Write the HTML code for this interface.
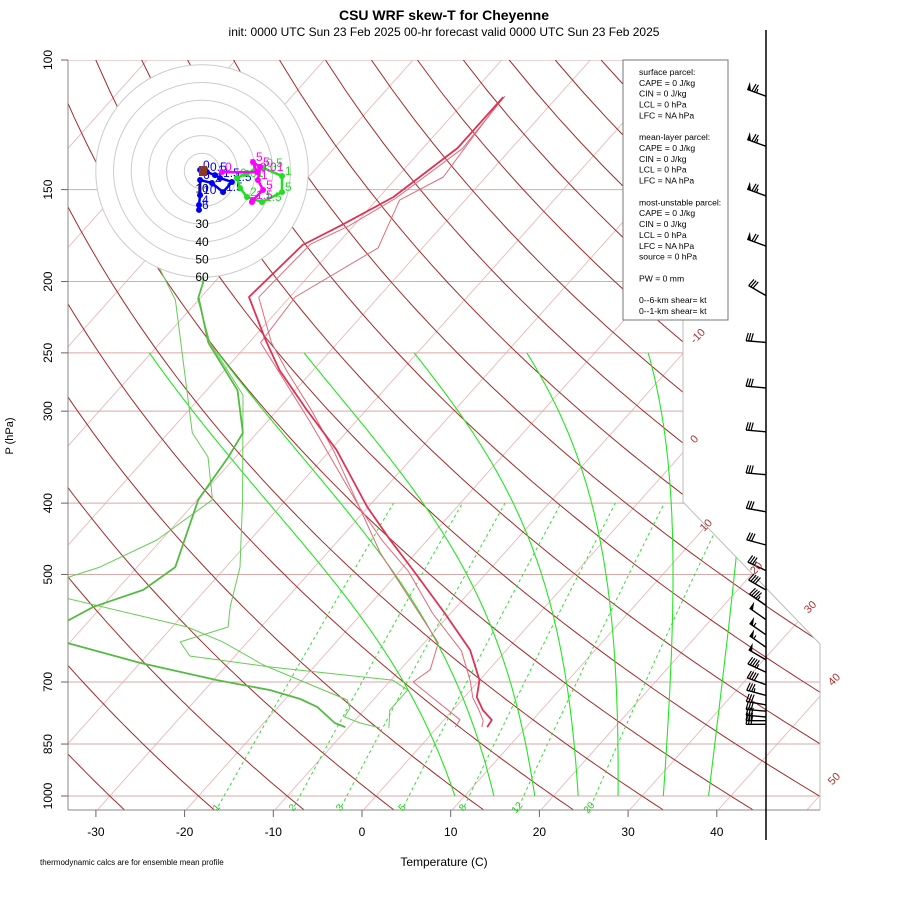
<!DOCTYPE html>
<html><head><meta charset="utf-8">
<style>
html,body{margin:0;padding:0;background:#fff;}
svg{display:block;font-family:"Liberation Sans",sans-serif;}
</style></head>
<body>
<svg id="chart" width="900" height="900" viewBox="0 0 900 900" xmlns="http://www.w3.org/2000/svg">
<defs><clipPath id="diag"><polygon points="68,60 683,60 683,502 820,644 820,810 68,810"/></clipPath></defs>
<text x="444" y="20" text-anchor="middle" font-size="14" font-weight="bold">CSU WRF skew-T for Cheyenne</text>
<text x="444" y="36" text-anchor="middle" font-size="12">init: 0000 UTC Sun 23 Feb 2025    00-hr forecast valid 0000 UTC Sun 23 Feb 2025</text>
<g id="bg" clip-path="url(#diag)"></g>
<g id="frame"></g>
<g id="prof" clip-path="url(#diag)"></g>
<g id="hodo"></g>
<g id="winds"></g>
<g id="axes"></g>
<g id="info"></g>
<text x="444" y="866" text-anchor="middle" font-size="12">Temperature (C)</text>
<text transform="translate(13,436) rotate(-90)" text-anchor="middle" font-size="11">P (hPa)</text>
<text x="40" y="865" font-size="8">thermodynamic calcs are for ensemble mean profile</text>
</svg>
<script>
// ---- data ----
const isobars = [100,150,200,250,300,400,500,700,850,1000];
const tempTicks = [-30,-20,-10,0,10,20,30,40];
const isothermLabels = [-10,0,10,20,30,40,50];
const isothermLabelP = [239,330,432,494,558,700,955];
const dryThetas = [-40,-30,-20,-10,0,10,20,30,40,50,60,70,80,90,100,110,120,130,140,150,160,170,180,190,200];
const moistStarts = [8.9,13.3,17.9,22.8,27.3,32.4,37.5];
const mixRatios = [1,2,3,5,8,12,20];

const tP = [112.3,131.7,153.5,167.6,178.4,209.9,240.1,263.8,298.9,338.8,404.9,448.9,493.1,564.1,633.4,695.9,733.9,764.3,788.4,806.0];
const tT = [-56.1,-56.1,-58.4,-61.4,-63.8,-64.6,-58.4,-53.8,-46.7,-39.3,-30.1,-24.2,-18.6,-10.7,-4.1,0.0,1.4,3.4,5.4,5.6];
const tAP = [112.3,127.2,144.2,155,180,209.9,242.1,311,404.9,467.6,619.5,673.9,700,788,806];
const tAT = [-56.1,-55.5,-54.8,-57.4,-55.0,-59.4,-58.7,-45.0,-31.0,-24.0,-8.4,-6.6,-7.3,1.8,2.0];
const tBP = [112,132,154,168,178,210,242,264,300,340,405,450,495,565,635,697,735,765,790,806];
const tBT = [-56,-55.5,-58,-60.5,-63,-63.5,-57.5,-53,-46,-39.5,-31,-25,-19,-12,-5,-1,1,3,4.5,5];

const dP = [113.7,160,200.9,209.9,242.1,281,321.1,346.3,395.7,488.6,524.8,553.3,587.3,617.4,659.5,695.9,718,738.3,756.8,795.7,806];
const dT = [-80.8,-78,-71.2,-70.3,-64.6,-56.5,-51.6,-50.8,-49.9,-45.7,-47.0,-50.9,-53.0,-50.8,-40.0,-29.6,-22.6,-18.3,-15.6,-12.0,-10.4];
const dAP = [191.8,211.9,321.1,346.3,395.7,448.9,488.6,520,528.2,589.3,617.4,663.7,740.6,759.4,780.8,795.6,808.2];
const dAT = [-77.6,-72.6,-57.3,-53.1,-48.3,-50.5,-54.2,-59.2,-58.4,-38.3,-32.8,-25.9,-12.9,-11.8,-11.5,-9.2,-6.4];
const dBP = [210.6,242.1,285.3,395.7,488.6,553.3,589.3,617.4,645.3,667.9,695.9,718,764.3,808.2];
const dBT = [-70.3,-64.4,-55.4,-44.9,-38.4,-35.5,-33.7,-37.6,-35.1,-24.9,-9.8,-7.1,-7.1,-5.4];

const windP = [112,131,153,179,209,242,279,320,366,411,456,494,525,551,576,604,628,653,679,706,730,752,767,781,790,799];
const windDir = [290,290,290,290,300,275,275,275,275,280,285,295,300,305,305,305,305,300,295,290,285,280,275,275,270,270];
const windSpd = [75,75,75,70,30,30,30,30,30,30,30,35,40,45,50,55,55,50,45,40,35,30,30,30,30,30];

const hodoRings = [10,20,30,40,50,60];
const hodoBlueU = [-1.1,2.8,7.3,10.2,16.9,11.9,5.6,-1.1,-1.1,-1.7,-1.7];
const hodoBlueV = [0.6,-0.6,-2.3,-4.0,-6.2,-11.9,-6.8,-5.1,-13.6,-19.2,-22.0];
const hodoBlueLab = ["0","0.5","1","1.5","1.5","1.5","2","6","10","4","6"];
const hodoGreenU = [19.8,25.4,34.5,45.2,45.2,33.9,25.4,21.5,19.8];
const hodoGreenV = [-4.0,-1.1,1.7,-2.8,-11.9,-17.5,-14.7,-9.6,-4.0];
const hodoGreenLab = ["0.01","1","0.5","1","5","1.5","2","",""];
const hodoMagU = [11.3,31.1,28.8,32.8,31.6,34.5,28.8,28.2];
const hodoMagV = [-0.6,-0.6,5.1,2.3,-5.1,-10.7,-16.4,-17.5];
const hodoMagLab = ["0","0.01","5","5","1","5","1.5",""];

const infoLines = ["surface parcel:","CAPE = 0 J/kg","CIN = 0 J/kg","LCL = 0 hPa","LFC = NA hPa","","mean-layer parcel:","CAPE = 0 J/kg","CIN = 0 J/kg","LCL = 0 hPa","LFC = NA hPa","","most-unstable parcel:","CAPE = 0 J/kg","CIN = 0 J/kg","LCL = 0 hPa","LFC = NA hPa","source = 0 hPa","","PW =  0 mm","","0--6-km shear=  kt","0--1-km shear=  kt"];

// ---- scales ----
const NS = "http://www.w3.org/2000/svg";
function Y(p){ return 60 + 736*Math.log10(p/100); }
function X(t,p){ return 362 + 8.87*t + 0.894*(811.6 - Y(p)); }
function mk(parent, tag, attrs){ const e=document.createElementNS(NS,tag); for(const k in attrs) e.setAttribute(k,attrs[k]); parent.appendChild(e); return e; }
function polyPts(ps, ts){ return ps.map((p,i)=>X(ts[i],p).toFixed(1)+","+Y(p).toFixed(1)).join(" "); }

const bg = document.getElementById('bg');
// isotherms
for(let t=-120;t<=50;t+=10){
  const l = mk(bg,'line',{x1:X(t,1050),y1:Y(1050),x2:X(t,100),y2:Y(100),stroke:'#ebb8b8','stroke-width':0.9});
  
  
}
// isobars
isobars.forEach(p=>{
  const l = mk(bg,'line',{x1:68,y1:Y(p),x2:820,y2:Y(p),stroke:'#d9a9a9','stroke-width':1});
  
  
});
// dry adiabats
dryThetas.forEach(th=>{
  const pts=[];
  for(let p=1050;p>=100;p-=10){ const T=(th+273.15)*Math.pow(p/1000,0.2857)-273.15; pts.push(X(T,p).toFixed(1)+","+Y(p).toFixed(1)); }
  const e = mk(bg,'polyline',{points:pts.join(" "),fill:'none',stroke:'#a52a2a','stroke-width':1});
  
  
});
// moist adiabats
function esat(T){ return 6.112*Math.exp(17.67*T/(T+243.5)); }
moistStarts.forEach(t0=>{
  let T=t0+273.15, lp=Math.log(1000); const pend=Math.log(250); const pts=[];
  const n=200, dl=(pend-lp)/n;
  for(let i=0;i<=n;i++){
    const p=Math.exp(lp);
    pts.push(X(T-273.15,p).toFixed(1)+","+Y(p).toFixed(1));
    const es=esat(T-273.15), r=0.622*es/(p-es);
    const g=(287*T+2.5e6*r)/(1005+2.5e6*2.5e6*r*0.622/(287*T*T));
    T+=g*dl; lp+=dl;
  }
  const e = mk(bg,'polyline',{points:pts.join(" "),fill:'none',stroke:'#22e622','stroke-width':1.1});
  
  
});
// mixing ratio lines
mixRatios.forEach(w=>{
  const pts=[];
  for(let p=1050;p>=400;p-=25){ const e=w*p/(622+w); const L=Math.log(e/6.112); const T=243.5*L/(17.67-L); pts.push(X(T,p).toFixed(1)+","+Y(p).toFixed(1)); }
  const e = mk(bg,'polyline',{points:pts.join(" "),fill:'none',stroke:'#33dd33','stroke-width':1,'stroke-dasharray':'3,3'});
  
  
  const e2=w*1035/(622+w), L=Math.log(e2/6.112), T=243.5*L/(17.67-L);
  const tx = mk(document.getElementById('axes'),'text',{x:X(T,1035)-2,y:Y(1035)+4,'font-size':10,fill:'#22cc22','text-anchor':'middle',transform:`rotate(-50 ${X(T,1035)-2} ${Y(1035)})`});
  tx.textContent=w;
  
  
});

// frame
const fr=document.getElementById('frame');
mk(fr,'polyline',{points:'683,60 683,502 820,644 820,810',fill:'none',stroke:'#bbb','stroke-width':1});
mk(fr,'line',{x1:68,y1:60,x2:68,y2:810,stroke:'#888','stroke-width':1});
mk(fr,'line',{x1:68,y1:810,x2:820,y2:810,stroke:'#888','stroke-width':1});

// isotherm labels
const ax=document.getElementById('axes');
isothermLabels.forEach((t,i)=>{
  const p=isothermLabelP[i]; const x=X(t,p)+4, y=Y(p);
  const e=mk(ax,'text',{x:x,y:y,'font-size':11,fill:'#b03030','text-anchor':'middle',transform:`rotate(-45 ${x} ${y})`});
  e.textContent=t;
  
  
});
// x ticks
tempTicks.forEach(t=>{
  const x=X(t,1050);
  mk(ax,'line',{x1:x,y1:810,x2:x,y2:817,stroke:'#666'});
  const e=mk(ax,'text',{x:x,y:836,'font-size':12,'text-anchor':'middle'});
  e.textContent=t;
  
  
});
// y ticks
isobars.forEach(p=>{
  const y=Y(p);
  mk(ax,'line',{x1:61,y1:y,x2:68,y2:y,stroke:'#666'});
  const e=mk(ax,'text',{x:0,y:0,'font-size':12,'text-anchor':'middle',transform:`translate(52,${y}) rotate(-90)`});
  e.textContent=p;
  
  
});

// profiles
const pr=document.getElementById('prof');
function line(ps,ts,color,w,name){ const e=mk(pr,'polyline',{points:polyPts(ps,ts),fill:'none',stroke:color,'stroke-width':w,'stroke-linejoin':'round'});   }
line(dAP,dAT,'#66cc55',1,'dewpoint-member-a');
line(dBP,dBT,'#66cc55',1,'dewpoint-member-b');
line(dP,dT,'#55bb44',1.8,'dewpoint-mean');
line(tAP,tAT,'#e06a7a',1,'temperature-member-a');
line(tBP,tBT,'#e06a7a',1,'temperature-member-b');
line(tP,tT,'#dd3355',1.8,'temperature-mean');

// hodograph
const hg=document.getElementById('hodo');
const hx=202, hy=171, hs=1.77;
mk(hg,'circle',{cx:hx,cy:hy,r:60*hs,fill:'#fff',stroke:'none'});
hodoRings.forEach(r=>{
  const c=mk(hg,'circle',{cx:hx,cy:hy,r:r*hs,fill:'none',stroke:'#cccccc','stroke-width':1});
  
  
  if(r>=30 || r===10){ const t=mk(hg,'text',{x:hx,y:hy+r*hs+4,'font-size':12,'text-anchor':'middle'}); t.textContent=r;
    
     }
});
function hodoTrace(U,V,L,col,name){
  const pts=U.map((u,i)=>(hx+u*hs).toFixed(1)+","+(hy-V[i]*hs).toFixed(1)).join(" ");
  const e=mk(hg,'polyline',{points:pts,fill:'none',stroke:col,'stroke-width':2.5});
  
  
  U.forEach((u,i)=>{
    const c=mk(hg,'circle',{cx:hx+u*hs,cy:hy-V[i]*hs,r:3,fill:col});
    
    
    if(L[i]){ const t=mk(hg,'text',{x:hx+u*hs+3,y:hy-V[i]*hs-1,'font-size':12,fill:col}); t.textContent=L[i];
      
       }
  });
}
hodoTrace(hodoBlueU,hodoBlueV,hodoBlueLab,'#0000ee','hodograph-blue');
hodoTrace(hodoGreenU,hodoGreenV,hodoGreenLab,'#22dd22','hodograph-green');
hodoTrace(hodoMagU,hodoMagV,hodoMagLab,'#ff00ff','hodograph-magenta');
mk(hg,'rect',{x:hx-3,y:hy-5,width:8,height:10,fill:'#8b3a2a'});

// winds
const wg=document.getElementById('winds');
mk(wg,'line',{x1:766,y1:30,x2:766,y2:840,stroke:'#000','stroke-width':1.5});
windP.forEach((p,i)=>{
  const bx=766, by=Y(p), d=windDir[i]*Math.PI/180, L=20;
  const ux=Math.sin(d), uy=-Math.cos(d);
  const px=-uy, py=ux; // perpendicular
  const g=mk(wg,'g',{});
  
  
  const tx=bx+ux*L, ty=by+uy*L;
  mk(g,'line',{x1:bx,y1:by,x2:tx,y2:ty,stroke:'#000','stroke-width':1.4});
  let s=Math.round(windSpd[i]/5)*5, pos=0;
  const nx=(k)=>tx-ux*k, ny=(k)=>ty-uy*k;
  const bpx = px>0?px:px, bpy = py;
  // ensure barbs go upward
  const sgn = (py<0)?1:-1;
  const qx=px*sgn, qy=py*sgn;
  while(s>=50){ mk(g,'polygon',{points:`${nx(pos)},${ny(pos)} ${nx(pos+4)},${ny(pos+4)} ${nx(pos)+qx*8},${ny(pos)+qy*8}`,fill:'#000'}); pos+=5; s-=50; }
  while(s>=10){ mk(g,'line',{x1:nx(pos),y1:ny(pos),x2:nx(pos)+qx*8-ux*1.5,y2:ny(pos)+qy*8-uy*1.5,stroke:'#000','stroke-width':1.2}); pos+=2.5; s-=10; }
  if(s>=5){ mk(g,'line',{x1:nx(pos),y1:ny(pos),x2:nx(pos)+qx*4,y2:ny(pos)+qy*4,stroke:'#000','stroke-width':1.2}); }
});

// info box
const ib=document.getElementById('info');
mk(ib,'rect',{x:623,y:60,width:105,height:260,fill:'#fff',stroke:'#777','stroke-width':1});
infoLines.forEach((s,i)=>{
  if(!s) return;
  const t=mk(ib,'text',{x:639,y:75+i*10.86,'font-size':8.6});
  t.textContent=s;
  
  
});
</script>
</body></html>
